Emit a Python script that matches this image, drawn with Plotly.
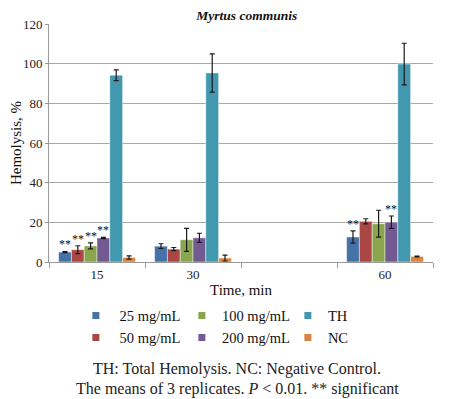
import plotly.graph_objects as go

categories = ["15", "30", " ", "60"]
times = ["15", "30", "60"]
series_names = ["25 mg/mL", "50 mg/mL", "100 mg/mL", "200 mg/mL", "TH", "NC"]
values = {
    "25 mg/mL": [5.0, 8.0, 12.6],
    "50 mg/mL": [6.2, 6.5, 20.5],
    "100 mg/mL": [8.1, 11.2, 19.3],
    "200 mg/mL": [12.1, 12.2, 20.1],
    "TH": [94.2, 95.3, 99.8],
    "NC": [2.3, 2.0, 2.8],
}
errors = {
    "25 mg/mL": [0.3, 1.2, 3.1],
    "50 mg/mL": [2.0, 0.8, 1.3],
    "100 mg/mL": [1.5, 5.8, 6.8],
    "200 mg/mL": [0.3, 2.3, 3.1],
    "TH": [2.7, 9.6, 10.5],
    "NC": [0.8, 1.5, 0.2],
}
# significance markers: (series, time)
significant = [("25 mg/mL", "15"), ("50 mg/mL", "15"), ("100 mg/mL", "15"),
               ("200 mg/mL", "15"), ("25 mg/mL", "60"), ("200 mg/mL", "60")]
colors = {
    "25 mg/mL": "#4572A7",
    "50 mg/mL": "#AA4643",
    "100 mg/mL": "#89A54E",
    "200 mg/mL": "#735A93",
    "TH": "#4198AF",
    "NC": "#DB843D",
}
legend_order = ["25 mg/mL", "100 mg/mL", "TH", "50 mg/mL", "200 mg/mL", "NC"]
legend_labels = {"25 mg/mL": " 25 mg/mL", "50 mg/mL": " 50 mg/mL"}

FONT = "Liberation Serif, Times New Roman, serif"
fig = go.Figure()

for name in series_names:
    fig.add_trace(go.Bar(
        x=times, y=values[name], name=name, showlegend=False,
        marker=dict(color=colors[name], line=dict(color="rgba(255,255,255,0.45)", width=1)),
        error_y=dict(type="data", array=errors[name], visible=True,
                     color="#1a1a1a", thickness=1.2, width=2.5),
    ))

for name in legend_order:
    fig.add_trace(go.Scatter(
        x=[None], y=[None], mode="markers", name=legend_labels.get(name, name),
        marker=dict(symbol="square", size=7, color=colors[name]),
    ))

ngroups = len(series_names)
bargap = 0.2
slot = (1 - bargap) / ngroups
for name, t in significant:
    i = series_names.index(name)
    j = times.index(t)
    ci = categories.index(t)
    xpos = ci - (1 - bargap) / 2 + (i + 0.5) * slot
    ytop = values[name][j] + errors[name][j]
    fig.add_annotation(x=xpos, y=ytop, xref="x", yref="y", text="**",
                       showarrow=False, yanchor="bottom", yshift=-2,
                       font=dict(family=FONT, size=12, color="#111"))

fig.add_annotation(x=0.5, y=-0.118, xref="paper", yref="paper", text="Time, min",
                   showarrow=False, xanchor="center", yanchor="middle",
                   font=dict(family=FONT, size=15, color="#111"))
fig.add_annotation(x=0.49, y=-0.45, xref="paper", yref="paper",
                   text="TH: Total Hemolysis. NC: Negative Control.",
                   showarrow=False, xanchor="center", yanchor="middle",
                   font=dict(family=FONT, size=16, color="#222"))
fig.add_annotation(x=0.49, y=-0.534, xref="paper", yref="paper",
                   text="The means of 3 replicates. <i>P</i> &lt; 0.01. ** significant",
                   showarrow=False, xanchor="center", yanchor="middle",
                   font=dict(family=FONT, size=16, color="#222"))

fig.update_layout(
    width=453, height=391,
    margin=dict(l=41, r=28, t=16, b=137, autoexpand=False),
    paper_bgcolor="white", plot_bgcolor="white",
    barmode="group", bargap=bargap, bargroupgap=0,
    title=dict(text="<b><i>Myrtus communis</i></b>", x=0.527, xanchor="center",
               y=0.981, yref="container", yanchor="middle",
               font=dict(family=FONT, size=13.5, color="#111")),
    font=dict(family=FONT, size=13, color="#222"),
    xaxis=dict(type="category", categoryorder="array", categoryarray=categories,
               range=[-0.5, 3.5], tickson="boundaries", ticks="outside", ticklen=5,
               tickcolor="#9a9a9a", showline=True, linecolor="#9a9a9a", linewidth=1,
               showgrid=False, tickfont=dict(family=FONT, size=13), automargin=False),
    yaxis=dict(range=[0, 120], dtick=20, showgrid=True, gridcolor="#a8a8a8", gridwidth=1,
               showline=True, linecolor="#9a9a9a", linewidth=1, ticks="outside", ticklen=3,
               tickcolor="#9a9a9a", zeroline=False, tickfont=dict(family=FONT, size=13),
               automargin=False,
               title=dict(text="Hemolysis, %", font=dict(family=FONT, size=15, color="#111"),
                          standoff=6)),
    legend=dict(orientation="h", x=0.07, xanchor="left", y=-0.158, yanchor="top",
                entrywidth=61, itemwidth=30, font=dict(family=FONT, size=14.5, color="#111"),
                traceorder="normal"),
)

fig.write_html("out.html")
